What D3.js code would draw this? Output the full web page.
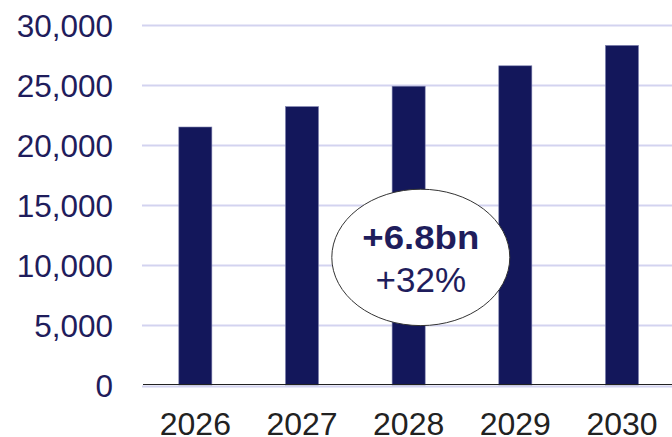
<!DOCTYPE html>
<html>
<head>
<meta charset="utf-8">
<script src="https://cdn.jsdelivr.net/npm/d3@7/dist/d3.min.js"></script>
<style>
  html, body { margin: 0; padding: 0; background: #ffffff; }
  svg { display: block; }
</style>
</head>
<body>
<div id="chart"></div>
<script>
// Annual values by year
const years = ["2026", "2027", "2028", "2029", "2030"];
const values = [21500, 23200, 24900, 26600, 28300];
const yTicks = [0, 5000, 10000, 15000, 20000, 25000, 30000];
const calloutLines = ["+6.8bn", "+32%"];

const W = 672, H = 437;
const margin = { left: 142, right: -3.3, top: 25, bottom: 52 };

const svg = d3.select("#chart").append("svg")
  .attr("width", W).attr("height", H);

const x = d3.scaleBand()
  .domain(years)
  .range([margin.left, W - margin.right])
  .paddingInner(0.69)
  .paddingOuter(0.345);

const y = d3.scaleLinear()
  .domain([0, 30000])
  .range([H - margin.bottom, margin.top]);

const font = "'Liberation Sans', Arial, sans-serif";

// Gridlines
svg.append("g")
  .selectAll("line")
  .data(yTicks)
  .join("line")
  .attr("x1", margin.left)
  .attr("x2", W)
  .attr("y1", d => y(d) + (d === 0 ? 1 : 0) + 0.5)
  .attr("y2", d => y(d) + (d === 0 ? 1 : 0) + 0.5)
  .attr("stroke", "#d3d3f0")
  .attr("stroke-width", 2);

// Y axis labels
const yAxis = d3.axisLeft(y)
  .tickValues(yTicks)
  .tickFormat(d3.format(","))
  .tickSize(0)
  .tickPadding(0);

const gy = svg.append("g")
  .attr("transform", `translate(${margin.left - 29},0)`)
  .call(yAxis);
gy.select(".domain").remove();
gy.selectAll("text")
  .attr("font-family", font)
  .attr("font-size", 31.5)
  .attr("fill", "#1f1d5c")
  .attr("dy", "0.36em");

// Bars
svg.append("g")
  .selectAll("rect")
  .data(years.map((yr, i) => ({ yr, v: values[i] })))
  .join("rect")
  .attr("x", d => x(d.yr))
  .attr("y", d => y(d.v))
  .attr("width", x.bandwidth())
  .attr("height", d => y(0) - y(d.v))
  .attr("fill", "#13175b")
  .attr("stroke", "#7f82b0")
  .attr("stroke-width", 0.6);

// Baseline
svg.append("line")
  .attr("x1", margin.left + 1)
  .attr("x2", W)
  .attr("y1", y(0) - 0.5)
  .attr("y2", y(0) - 0.5)
  .attr("stroke", "#222222")
  .attr("stroke-width", 1.2);

// X axis labels
const xAxis = d3.axisBottom(x).tickSize(0).tickPadding(0);
const gx = svg.append("g")
  .attr("transform", `translate(0,${y(0)})`)
  .call(xAxis);
gx.select(".domain").remove();
gx.selectAll("text")
  .attr("font-family", font)
  .attr("font-size", 32)
  .attr("fill", "#222222")
  .attr("dy", "1.55em");

// Callout ellipse with the 2026–2030 change
const cx = 420.8, cy = 257.4;
const callout = svg.append("g");
callout.append("ellipse")
  .attr("cx", cx).attr("cy", cy)
  .attr("rx", 89).attr("ry", 68.2)
  .attr("fill", "#ffffff")
  .attr("stroke", "#333333")
  .attr("stroke-width", 1);

callout.append("text")
  .attr("x", cx).attr("y", 249.3)
  .attr("text-anchor", "middle")
  .attr("font-family", font)
  .attr("font-weight", "bold")
  .attr("font-size", 34)
  .attr("fill", "#1f1d5c")
  .attr("textLength", 117)
  .attr("lengthAdjust", "spacingAndGlyphs")
  .text(calloutLines[0]);

callout.append("text")
  .attr("x", cx).attr("y", 292)
  .attr("text-anchor", "middle")
  .attr("font-family", font)
  .attr("font-size", 35)
  .attr("fill", "#1f1d5c")
  .text(calloutLines[1]);
</script>
</body>
</html>
